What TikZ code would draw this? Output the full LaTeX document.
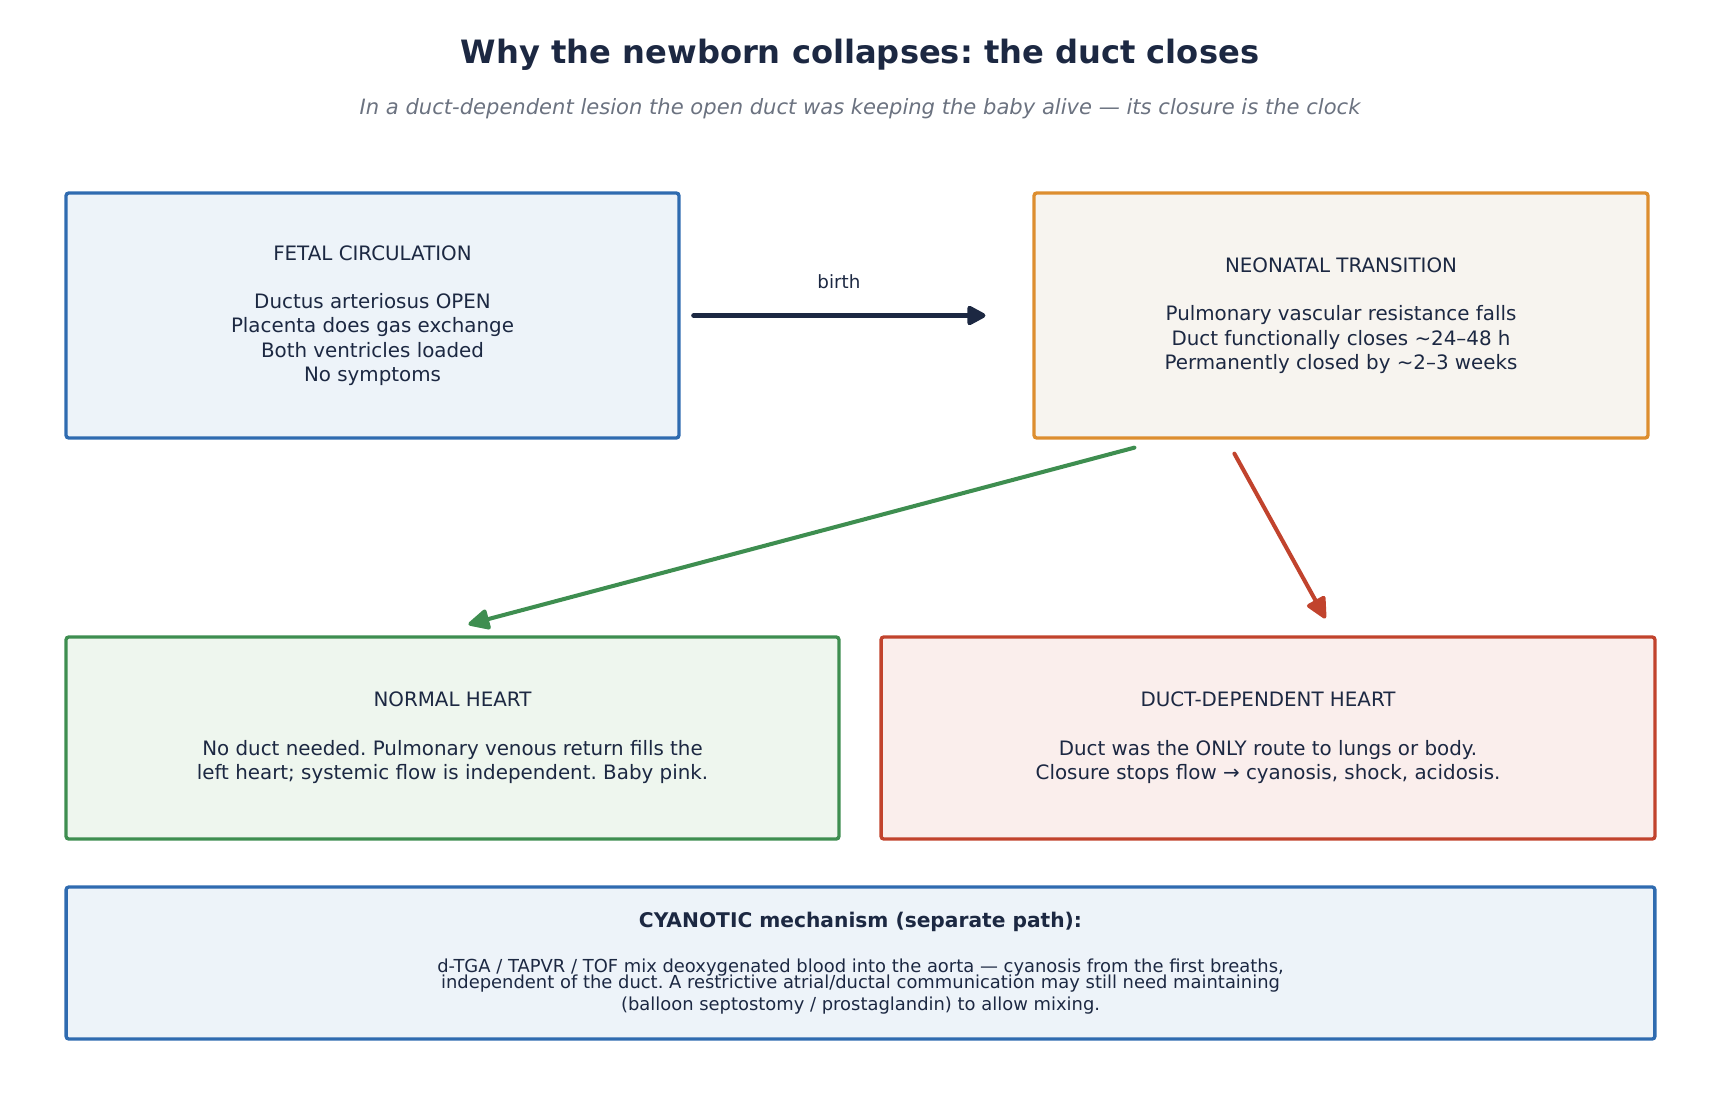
\documentclass[tikz,border=0pt]{standalone}
\usepackage{fontspec}
\setmainfont{DejaVu Sans}
\usetikzlibrary{arrows.meta,calc}
\definecolor{ink}{HTML}{1C2842}
\definecolor{slategray}{HTML}{6B7280}
\definecolor{steelblue}{HTML}{2F6BB0}
\definecolor{paleblue}{HTML}{EDF3F9}
\definecolor{amber}{HTML}{DD8E2F}
\definecolor{paleamber}{HTML}{F7F4EF}
\definecolor{fern}{HTML}{3E8E50}
\definecolor{palefern}{HTML}{EEF6EE}
\definecolor{brick}{HTML}{C1432D}
\definecolor{palebrick}{HTML}{FAEEEC}
\frenchspacing

\begin{document}
\begin{tikzpicture}[x=0.02cm,y=-0.02cm,
  panel/.style={draw, line width=1.9pt, rounded corners=1.5pt, align=center, text=ink, inner sep=0pt, font=\fontsize{11.3}{13.8}\selectfont},
  flow/.style={line width=2.3pt, line cap=round, -{Triangle[round,length=13.5pt,width=12.5pt]}}]
\useasboundingbox (0,0) rectangle (1720,1105);
\node[text=ink, font=\bfseries\fontsize{18.3}{20}\selectfont] (title) at (860,55) {Why the newborn collapses: the duct closes};
\node[text=slategray, font=\itshape\fontsize{12}{14}\selectfont] (subtitle) at (860,109) {In a duct-dependent lesion the open duct was keeping the baby alive — its closure is the clock};

\node[panel, draw=steelblue, fill=paleblue, minimum width=12.26cm, minimum height=4.9cm] (fetal) at (372.5,315.5) {FETAL CIRCULATION\\[13.8pt]Ductus arteriosus OPEN\\Placenta does gas exchange\\Both ventricles loaded\\No symptoms};
\node[panel, draw=amber, fill=paleamber, minimum width=12.28cm, minimum height=4.9cm] (neonatal) at (1341,315.5) {NEONATAL TRANSITION\\[13.8pt]Pulmonary vascular resistance falls\\Duct functionally closes \textasciitilde24–48 h\\Permanently closed by \textasciitilde2–3 weeks};
\node[panel, draw=fern, fill=palefern, minimum width=15.46cm, minimum height=4.04cm] (normal) at (452.5,738) {NORMAL HEART\\[13.8pt]No duct needed. Pulmonary venous return fills the\\left heart; systemic flow is independent. Baby pink.};
\node[panel, draw=brick, fill=palebrick, minimum width=15.48cm, minimum height=4.04cm] (ductdep) at (1268,738) {DUCT-DEPENDENT HEART\\[13.8pt]Duct was the ONLY route to lungs or body.\\Closure stops flow → cyanosis, shock, acidosis.};
\node[panel, draw=steelblue, fill=paleblue, minimum width=31.78cm, minimum height=3.04cm, font=\fontsize{10.2}{12.5}\selectfont] (cyanotic) at (860.5,963) {{\bfseries\fontsize{11.5}{13.8}\selectfont CYANOTIC mechanism (separate path):}\\[13.5pt]d-TGA / TAPVR / TOF mix deoxygenated blood into the aorta — cyanosis from the first breaths,\\[-3.6pt]independent of the duct. A restrictive atrial/ductal communication may still need maintaining\\(balloon septostomy / prostaglandin) to allow mixing.};

\draw[flow, ink, line width=2.7pt, -{Triangle[round,length=12pt,width=12pt]}, shorten <=0.26cm, shorten >=0.94cm] (fetal) -- node[pos=0.45, yshift=0.68cm, text=ink, font=\fontsize{10.4}{12}\selectfont] (birth) {birth} (neonatal);
\draw[flow, fern] ($(neonatal.south west)+(102,8)$) -- ($(normal.north west)+(404,-11)$);
\draw[flow, brick] ($(neonatal.south west)+(202,14)$) -- ($(ductdep.north west)+(446,-17)$);
\end{tikzpicture}
\end{document}
